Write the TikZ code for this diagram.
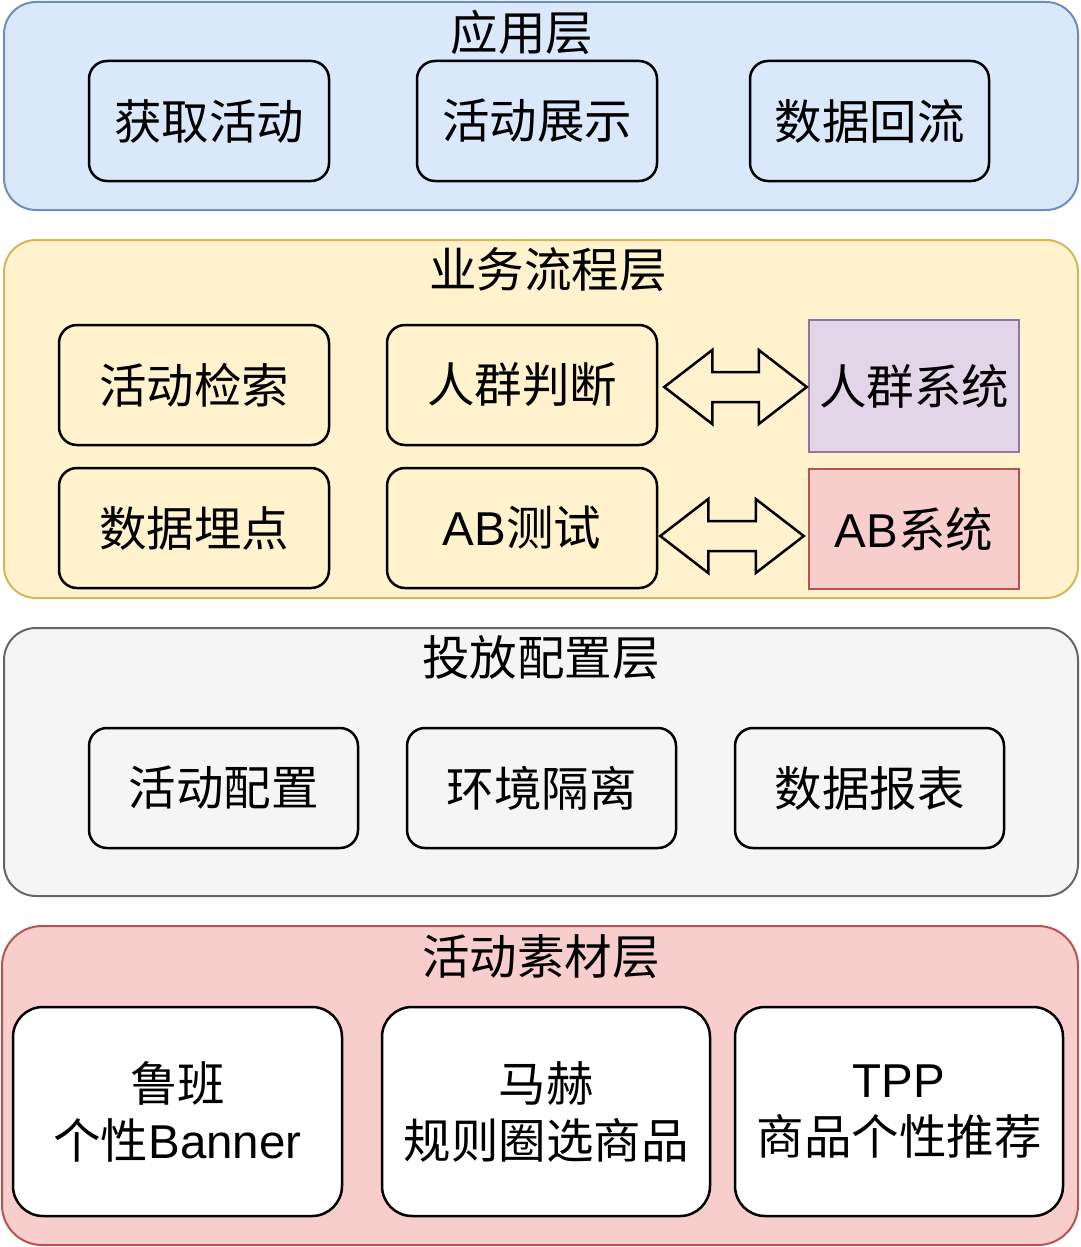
\documentclass[tikz,border=0pt]{standalone}
\usepackage{fontspec}
\setmainfont{Noto Sans CJK SC}
\newfontfamily\lat{Liberation Sans}
\usetikzlibrary{calc}
\definecolor{blueF}{HTML}{DAE8FC}
\definecolor{blueD}{HTML}{6C8EBF}
\definecolor{yelF}{HTML}{FFF2CC}
\definecolor{yelD}{HTML}{D6B656}
\definecolor{greyF}{HTML}{F5F5F5}
\definecolor{greyD}{HTML}{666666}
\definecolor{redF}{HTML}{F8CECC}
\definecolor{redD}{HTML}{B85450}
\definecolor{purF}{HTML}{E1D5E7}
\definecolor{purD}{HTML}{9673A6}
\tikzset{
  layer/.style={rounded corners=32pt, line width=2pt, inner sep=0pt},
  ttl/.style={inner sep=0pt, font=\fontsize{47.5}{57}\selectfont},
  box/.style={draw=black, rounded corners=18pt, line width=2.5pt, inner sep=0pt, align=center,
    font=\fontsize{47.5}{57}\selectfont},
  bigbox/.style={box, rounded corners=30pt, fill=white},
  sys/.style={line width=2.5pt, inner sep=0pt, font=\fontsize{47.5}{57}\selectfont},
  dbl/.style={draw=black, line width=2.5pt, fill=yelF, line join=miter}
}
\begin{document}
\begin{tikzpicture}[x=1pt,y=-1pt]
\useasboundingbox (0,0) rectangle (1080,1247);
\fill[white] (0,0) rectangle (1080,1247);
% layer 1
\node[layer, fill=blueF, draw=blueD, minimum width=1074pt, minimum height=208pt] (L1) at (541,106) {};
\node[ttl] (t1) at (522,32) {应用层};
\node[box, minimum width=240pt, minimum height=120pt] (b11) at (209,121) {获取活动};
\node[box, minimum width=240pt, minimum height=120pt] (b12) at (537,121) {活动展示};
\node[box, minimum width=239pt, minimum height=120pt] (b13) at (869.5,121) {数据回流};
% layer 2
\node[layer, fill=yelF, draw=yelD, minimum width=1074pt, minimum height=358pt] (L2) at (541,419) {};
\node[ttl] (t2) at (548,270) {业务流程层};
\node[box, minimum width=270pt, minimum height=120pt] (b21) at (194,385) {活动检索};
\node[box, minimum width=270pt, minimum height=120pt] (pd) at (522,385) {人群判断};
\node[sys, fill=purF, draw=purD, minimum width=210pt, minimum height=132pt] (rx) at (914,386) {人群系统};
\node[box, minimum width=270pt, minimum height=120pt] (b22) at (194,528) {数据埋点};
\node[box, minimum width=270pt, minimum height=120pt] (ab) at (522,528) {{\lat AB}测试};
\node[sys, fill=redF, draw=redD, minimum width=210pt, minimum height=120pt] (abx) at (914,529) {{\lat AB}系统};
% double arrows
\coordinate (a1l) at ($(pd.east)+(6,2)$);
\coordinate (a1r) at ($(rx.west)+(-1,1)$);
\draw[dbl] (a1l) -- ($(a1l)+(48,-37)$) -- ($(a1l)+(48,-15)$) -- ($(a1r)+(-48,-15)$) -- ($(a1r)+(-48,-37)$)
  -- (a1r) -- ($(a1r)+(-48,37)$) -- ($(a1r)+(-48,15)$) -- ($(a1l)+(48,15)$) -- ($(a1l)+(48,37)$) -- cycle;
\coordinate (a2l) at ($(ab.east)+(2,8)$);
\coordinate (a2r) at ($(abx.west)+(-4,7)$);
\draw[dbl] (a2l) -- ($(a2l)+(48,-37)$) -- ($(a2l)+(48,-15)$) -- ($(a2r)+(-48,-15)$) -- ($(a2r)+(-48,-37)$)
  -- (a2r) -- ($(a2r)+(-48,37)$) -- ($(a2r)+(-48,15)$) -- ($(a2l)+(48,15)$) -- ($(a2l)+(48,37)$) -- cycle;
% layer 3
\node[layer, fill=greyF, draw=greyD, minimum width=1074pt, minimum height=268pt] (L3) at (541,762) {};
\node[ttl] (t3) at (541,658) {投放配置层};
\node[box, minimum width=269pt, minimum height=120pt] (b31) at (223.5,788) {活动配置};
\node[box, minimum width=269pt, minimum height=120pt] (b32) at (541.5,788) {环境隔离};
\node[box, minimum width=269pt, minimum height=120pt] (b33) at (869.5,788) {数据报表};
% layer 4
\node[layer, rounded corners=40pt, fill=redF, draw=redD, minimum width=1076pt, minimum height=319pt] (L4) at (540,1085.5) {};
\node[ttl] (t4) at (541,957) {活动素材层};
\node[bigbox, minimum width=329pt, minimum height=209pt] (b41) at (177.5,1111.5) {鲁班\\个性{\lat Banner}};
\node[bigbox, minimum width=328pt, minimum height=209pt] (b42) at (546,1111.5) {马赫\\规则圈选商品};
\node[bigbox, minimum width=328pt, minimum height=209pt] (b43) at (899,1111.5) {{\lat TPP}\\商品个性推荐};
\end{tikzpicture}
\end{document}
